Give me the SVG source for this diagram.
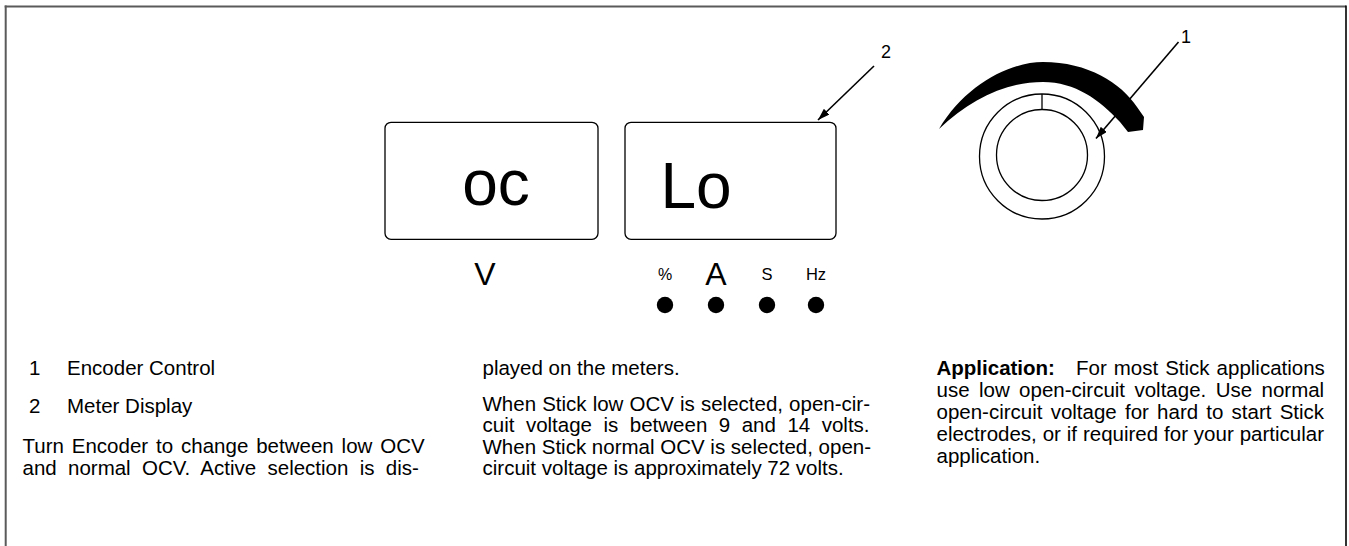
<svg xmlns="http://www.w3.org/2000/svg" width="1349" height="546" viewBox="0 0 1349 546">
  <style>
    .t { font-family: "Liberation Sans", Arial, sans-serif; fill: #000; }
    .body { font-size: 20.5px; }
    .box { fill: #fff; stroke: #000; stroke-width: 1.3; }
    .ln { fill: none; stroke: #000; stroke-width: 1.3; }
    .conn { fill: none; stroke: #000; stroke-width: 1.6; }
  </style>
  <defs>
    <marker id="arrow" viewBox="0 0 12 8" refX="12" refY="4" markerWidth="12" markerHeight="8" markerUnits="userSpaceOnUse" orient="auto">
      <path d="M0,0 L12,4 L0,8 Z" fill="#000"/>
    </marker>
  </defs>
  <rect width="1349" height="546" fill="#fff"/>
  <g id="frame">
    <line x1="5.7" y1="5.6" x2="5.7" y2="546" stroke="#5a5a5a" stroke-width="2"/>
    <line x1="4.7" y1="6.5" x2="1346" y2="6.5" stroke="#5a5a5a" stroke-width="1.8"/>
    <line x1="1346" y1="5.6" x2="1346" y2="546" stroke="#000" stroke-width="1.6"/>
  </g>

  <g id="display-voltage">
    <rect class="box" x="385" y="122.3" width="213" height="117" rx="6"/>
    <text class="t" x="496" y="205" font-size="64" text-anchor="middle">oc</text>
    <text class="t" x="485" y="285" font-size="32" text-anchor="middle">V</text>
  </g>

  <g id="display-amperage">
    <rect class="box" x="625" y="122.3" width="211" height="117" rx="6"/>
    <text class="t" x="660.5" y="208" font-size="64">Lo</text>
  </g>

  <g id="indicators">
    <text class="t" x="665" y="280" font-size="16" text-anchor="middle">%</text>
    <text class="t" x="716" y="285" font-size="32" text-anchor="middle">A</text>
    <text class="t" x="767" y="280" font-size="16.5" text-anchor="middle">S</text>
    <text class="t" x="816" y="280" font-size="16.5" text-anchor="middle">Hz</text>
    <circle cx="665" cy="305" r="8.2"/>
    <circle cx="716" cy="305" r="8.2"/>
    <circle cx="767" cy="305" r="8.2"/>
    <circle cx="816" cy="305" r="8.2"/>
  </g>

  <g id="encoder">
    <path d="M939,129 C965,85 1010,62 1043,62 C1088,62 1121,83 1137,107 L1144,117 L1143,130 L1128,132 L1120,122 C1100,100 1075,82 1043,82 C1005,82 970,100 939,129 Z" fill="#000"/>
    <circle class="ln" cx="1042" cy="156.5" r="62.5"/>
    <circle class="ln" cx="1042" cy="155" r="45.5"/>
    <line class="ln" x1="1042" y1="94" x2="1042" y2="109.5"/>
  </g>

  <g id="callout-labels">
    <text class="t" x="886" y="58" font-size="18" text-anchor="middle">2</text>
    <text class="t" x="1186" y="43" font-size="18" text-anchor="middle">1</text>
  </g>

  <g id="connectors">
    <line class="conn" x1="874" y1="66" x2="818" y2="120" marker-end="url(#arrow)"/>
    <line class="conn" x1="1178.5" y1="42" x2="1096" y2="138.5" marker-end="url(#arrow)"/>
  </g>

  <g id="legend" class="t body">
    <text x="29" y="375">1</text>
    <text x="67" y="375">Encoder Control</text>
    <text x="29" y="413">2</text>
    <text x="67" y="413">Meter Display</text>
    <text x="22.5" y="453" word-spacing="2.2">Turn Encoder to change between low OCV</text>
    <text x="22.5" y="474.5" word-spacing="5.6">and normal OCV. Active selection is dis-</text>
  </g>

  <g id="ocv-text" class="t body">
    <text x="482.5" y="375">played on the meters.</text>
    <text x="482.5" y="410.5" word-spacing="0.4">When Stick low OCV is selected, open-cir-</text>
    <text x="482.5" y="432" word-spacing="5.8">cuit voltage is between 9 and 14 volts.</text>
    <text x="482.5" y="453.5">When Stick normal OCV is selected, open-</text>
    <text x="482.5" y="475">circuit voltage is approximately 72 volts.</text>
  </g>

  <g id="application-text" class="t body">
    <text x="936.5" y="375" font-weight="bold">Application:</text>
    <text x="1076" y="375" word-spacing="1.3">For most Stick applications</text>
    <text x="936.5" y="397" word-spacing="3.7">use low open-circuit voltage. Use normal</text>
    <text x="936.5" y="419" word-spacing="2.5">open-circuit voltage for hard to start Stick</text>
    <text x="936.5" y="441" word-spacing="0.2">electrodes, or if required for your particular</text>
    <text x="936.5" y="463">application.</text>
  </g>
</svg>
